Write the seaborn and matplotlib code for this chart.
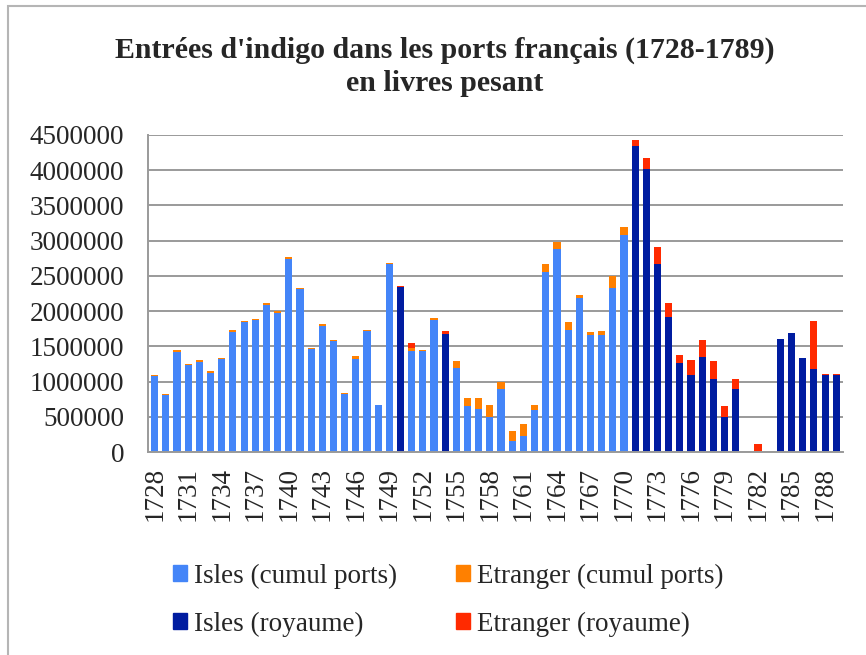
import matplotlib
matplotlib.use("Agg")
import matplotlib.pyplot as plt
from matplotlib.patches import Patch, Rectangle
import numpy as np
import seaborn as sns

years = list(range(1728, 1790))

# livres pesant
isles_cumul = [
    1076000, 806000, 1422000, 1232000, 1280000, 1123000, 1322000, 1706000, 1844000, 1872000,
    2085000, 1976000, 2744000, 2313000, 1464000, 1791000, 1573000, 829000, 1327000, 1711000,
    664000, 2668000, 0, 1431000, 1431000, 1877000, 0, 1190000, 649000, 611000,
    493000, 891000, 152000, 227000, 597000, 2559000, 2882000, 1739000, 2190000, 1664000,
    1664000, 2332000, 3085000, 0, 0, 0, 0, 0, 0, 0,
    0, 0, 0, 0, 0, 0, 0, 0, 0, 0,
    0, 0,
]
etranger_cumul = [
    19000, 19000, 23000, 19000, 23000, 24000, 19000, 24000, 14000, 14000,
    24000, 19000, 24000, 14000, 15000, 24000, 19000, 15000, 33000, 14000,
    0, 14000, 0, 43000, 24000, 19000, 0, 109000, 114000, 162000,
    180000, 100000, 151000, 166000, 76000, 109000, 94000, 100000, 33000, 33000,
    56000, 166000, 114000, 0, 0, 0, 0, 0, 0, 0,
    0, 0, 0, 0, 0, 0, 0, 0, 0, 0,
    0, 0,
]
isles_royaume = [
    0, 0, 0, 0, 0, 0, 0, 0, 0, 0,
    0, 0, 0, 0, 0, 0, 0, 0, 0, 0,
    0, 0, 2341000, 0, 0, 0, 1678000, 0, 0, 0,
    0, 0, 0, 0, 0, 0, 0, 0, 0, 0,
    0, 0, 0, 4346000, 4019000, 2673000, 1915000, 1261000, 1100000, 1346000,
    1033000, 498000, 891000, 0, 0, 0, 1607000, 1687000, 1336000, 1180000,
    1100000, 1100000,
]
etranger_royaume = [
    0, 0, 0, 0, 0, 0, 0, 0, 0, 0,
    0, 0, 0, 0, 0, 0, 0, 0, 0, 0,
    0, 0, 19000, 71000, 0, 0, 33000, 0, 0, 0,
    0, 0, 0, 0, 0, 0, 0, 0, 0, 0,
    0, 0, 0, 81000, 156000, 242000, 194000, 118000, 213000, 242000,
    266000, 151000, 152000, 0, 109000, 0, 0, 0, 0, 678000,
    14000, 14000,
]

labels = ["Isles (cumul ports)", "Etranger (cumul ports)",
          "Isles (royaume)", "Etranger (royaume)"]
colors = ["#4485f8", "#ff8000", "#001ca0", "#ff2a00"]

sns.set_theme(style="white")
plt.rcParams["font.family"] = ["Liberation Serif", "DejaVu Serif"]

fig = plt.figure(figsize=(8.66, 6.55), dpi=100)
ax = fig.add_axes([0.1709, 0.3099, 0.8025, 0.484])

series = [isles_cumul, etranger_cumul, isles_royaume, etranger_royaume]
tops = np.cumsum(np.array(series, dtype=float), axis=0)
xlab = [str(y) for y in years]

# draw the cumulative totals from top layer down
for i in range(3, -1, -1):
    sns.barplot(x=xlab, y=tops[i], color=colors[i], saturation=1,
                width=0.64, ax=ax, linewidth=0)

ax.set_ylim(0, 4500000)
ax.set_xlim(-0.6, len(years) - 0.4)
ax.set_yticks(np.arange(0, 4500001, 500000))
ax.set_yticklabels([str(v) for v in range(0, 4500001, 500000)])
ax.yaxis.grid(True, color="#9a9a9a", linewidth=1.4)
ax.set_axisbelow(True)
ax.set_xticks(range(0, len(years), 3))
ax.set_xticklabels([str(y) for y in years[::3]], rotation=90)
ax.tick_params(axis="y", labelsize=19.5, pad=17, length=0)
ax.tick_params(axis="x", labelsize=19.5, pad=11, length=0)
ax.set_xlabel("")
ax.set_ylabel("")
for s in ["top", "right"]:
    ax.spines[s].set_visible(False)
for s in ["left", "bottom"]:
    ax.spines[s].set_color("#9a9a9a")
    ax.spines[s].set_linewidth(1.4)

fig.text(0.514, 0.898, "Entrées d'indigo dans les ports français (1728-1789)\nen livres pesant",
         ha="center", va="center", fontsize=21.5, fontweight="bold", linespacing=1.28)

handles = [Patch(color=colors[i], label=labels[i]) for i in [0, 2, 1, 3]]
fig.legend(handles=handles, ncol=2, loc="upper left",
           bbox_to_anchor=(0.172, 0.177), bbox_transform=fig.transFigure,
           frameon=False, fontsize=19.5, handlelength=0.5, handleheight=0.5,
           handletextpad=0.25, columnspacing=2.2, labelspacing=0.85)

fig.add_artist(Rectangle((8 / 866, -0.1), 1.2, 1 - 6 / 655 + 0.1,
                         transform=fig.transFigure, fill=False,
                         edgecolor="#b5b5b5", linewidth=1.5))

fig.savefig("out.png", dpi=100)
